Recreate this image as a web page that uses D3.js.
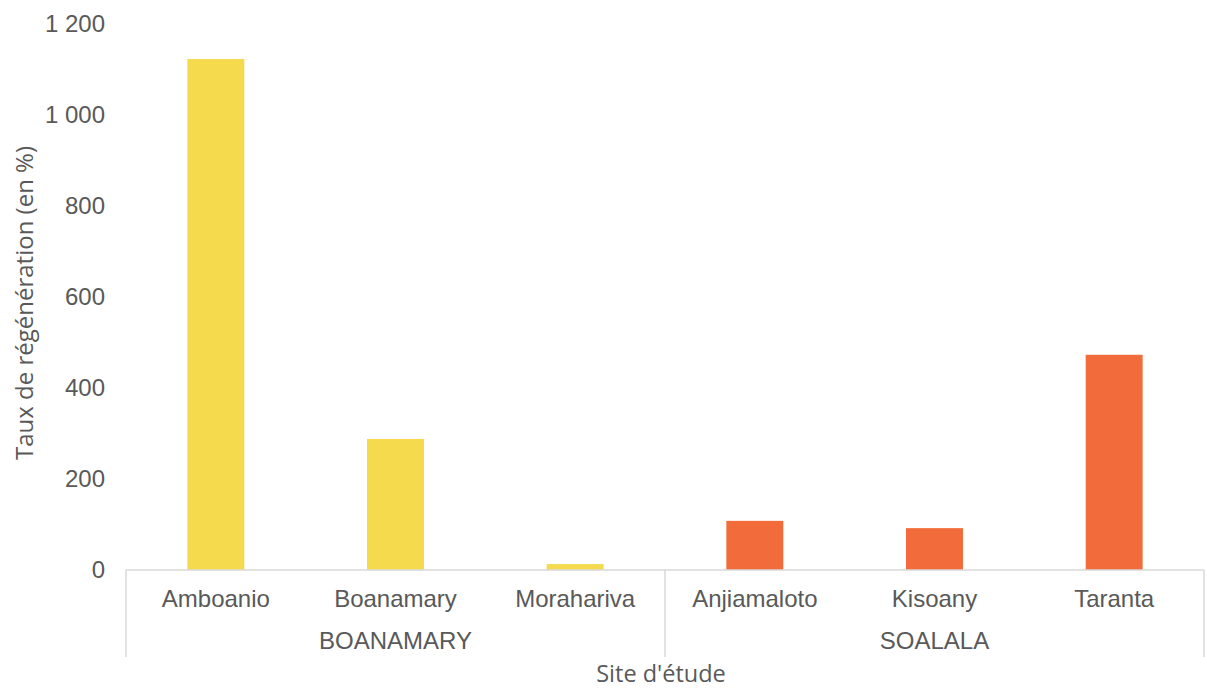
<!DOCTYPE html>
<html>
<head>
<meta charset="utf-8">
<script src="https://cdn.jsdelivr.net/npm/d3@7"></script>
<style>
  body { margin: 0; background: #fff; }
  #chart text { fill: #595959; }
</style>
</head>
<body>
<div id="chart"></div>
<script>
// data
var sites = ["Amboanio", "Boanamary", "Morahariva", "Anjiamaloto", "Kisoany", "Taranta"]
var groups = ["BOANAMARY", "BOANAMARY", "BOANAMARY", "SOALALA", "SOALALA", "SOALALA"]
var values = [1123, 288, 13, 108, 92, 473]
var groupNames = ["BOANAMARY", "SOALALA"]
var groupColors = { "BOANAMARY": "#F5DA4E", "SOALALA": "#F26B3A" }
var yTicks = [0, 200, 400, 600, 800, 1000, 1200]

var data = sites.map(function(s, i) { return { site: s, group: groups[i], value: values[i] } })

var W = 1207, H = 688
var margin = { top: 24, right: 3, bottom: 118, left: 126 },
  width = W - margin.left - margin.right,
  height = H - margin.top - margin.bottom;

var svg = d3.select("#chart")
  .append("svg")
  .attr("width", W)
  .attr("height", H)
  .append("g")
  .attr("transform", "translate(" + margin.left + "," + margin.top + ")");

var fr = d3.formatLocale({ decimal: ",", thousands: " ", grouping: [3], currency: ["", " €"] })
var fmt = fr.format(",d")

var x = d3.scaleBand()
  .domain(sites)
  .range([0, width])
  .paddingInner(0.683)
  .paddingOuter(0.3415);

var y = d3.scaleLinear()
  .domain([0, 1200])
  .range([height, 0]);

// Y axis labels only (no line)
var yAxis = svg.append("g")
  .attr("class", "yAxis")
  .call(d3.axisLeft(y).tickValues(yTicks).tickFormat(fmt).tickSize(0).tickPadding(21))
yAxis.select(".domain").remove()
yAxis.selectAll("text")
  .style("font-family", "Liberation Sans, Arial, sans-serif")
  .style("font-size", "24px")

// bars
svg.append("g")
  .selectAll("rect")
  .data(data)
  .enter()
  .append("rect")
  .attr("x", function(d) { return x(d.site) })
  .attr("y", function(d) { return y(d.value) })
  .attr("width", x.bandwidth())
  .attr("height", function(d) { return height - y(d.value) })
  .style("fill", function(d) { return groupColors[d.group] })

// category axis: line + group separators
var lineColor = "#D9D9D9"
svg.append("line")
  .attr("x1", 0).attr("x2", width)
  .attr("y1", height).attr("y2", height)
  .style("stroke", lineColor).style("stroke-width", 1.5)

var step = x.step()
var bounds = [0]
groupNames.forEach(function(g) {
  var n = groups.filter(function(v) { return v === g }).length
  bounds.push(bounds[bounds.length - 1] + n)
})
svg.append("g")
  .selectAll("line")
  .data(bounds)
  .enter()
  .append("line")
  .attr("x1", function(b) { return b * step })
  .attr("x2", function(b) { return b * step })
  .attr("y1", height)
  .attr("y2", height + 87)
  .style("stroke", lineColor).style("stroke-width", 1.5)

// site labels
svg.append("g")
  .selectAll("text")
  .data(data)
  .enter()
  .append("text")
  .attr("x", function(d) { return x(d.site) + x.bandwidth() / 2 })
  .attr("y", height + 37)
  .attr("text-anchor", "middle")
  .style("font-family", "Liberation Sans, Arial, sans-serif")
  .style("font-size", "24px")
  .text(function(d) { return d.site })

// group labels
svg.append("g")
  .selectAll("text")
  .data(groupNames)
  .enter()
  .append("text")
  .attr("x", function(g, i) { return (bounds[i] + bounds[i + 1]) / 2 * step })
  .attr("y", height + 79)
  .attr("text-anchor", "middle")
  .style("font-family", "Liberation Sans, Arial, sans-serif")
  .style("font-size", "24px")
  .text(function(g) { return g })

// axis titles
svg.append("text")
  .attr("x", width / 2 - 4)
  .attr("y", height + 112)
  .attr("text-anchor", "middle")
  .style("font-family", "Open Sans, sans-serif")
  .style("font-size", "23.5px")
  .text("Site d'étude")

svg.append("text")
  .attr("transform", "translate(" + (-93) + "," + (height / 2 + 6) + ") rotate(-90)")
  .attr("text-anchor", "middle")
  .style("font-family", "Open Sans, sans-serif")
  .style("font-size", "24px")
  .text("Taux de régénération (en %)")
</script>
</body>
</html>
